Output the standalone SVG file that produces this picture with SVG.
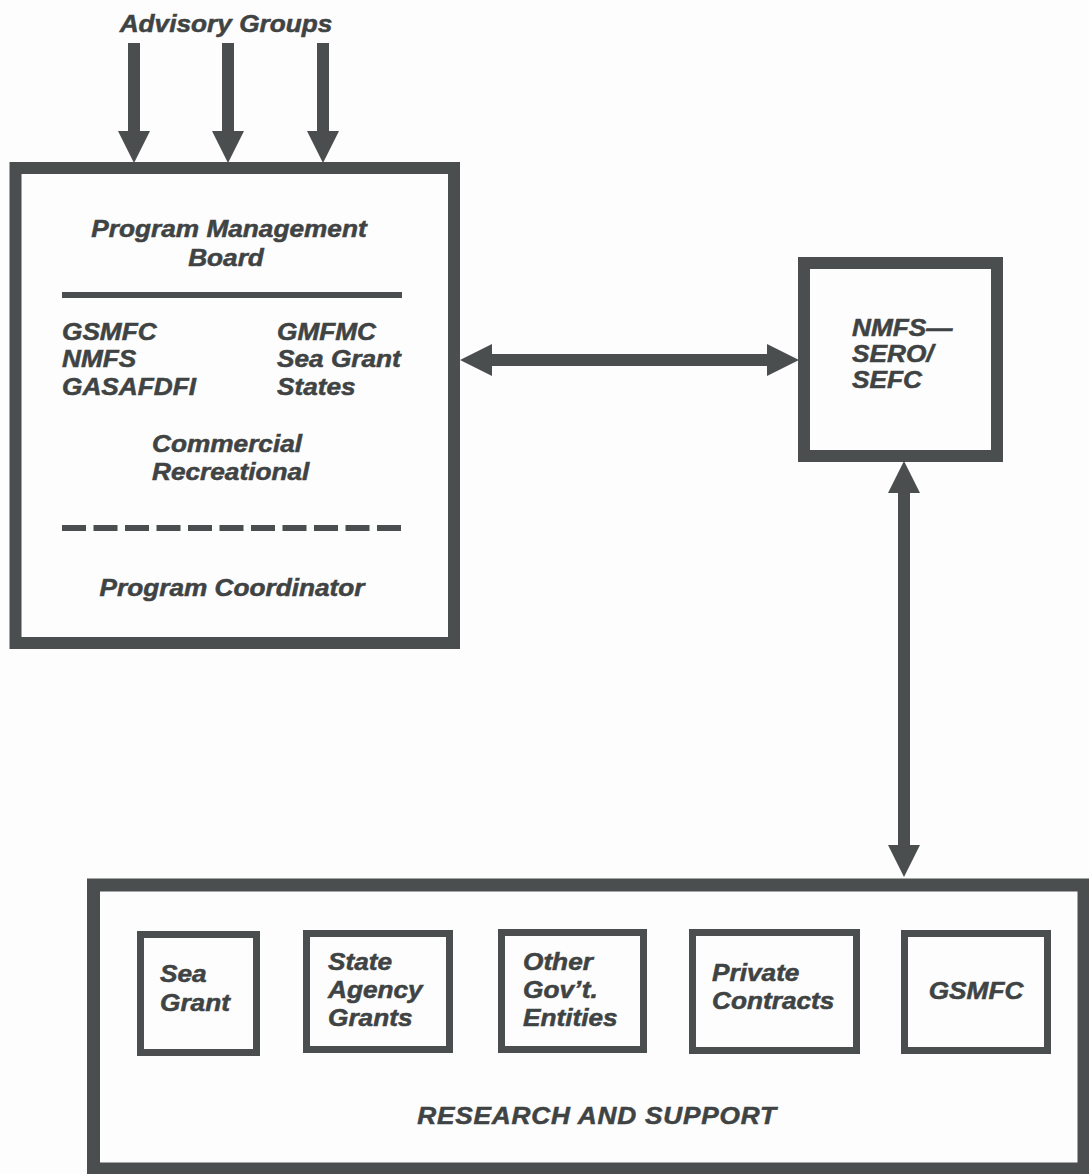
<svg xmlns="http://www.w3.org/2000/svg" width="1089" height="1174" viewBox="0 0 1089 1174">
  <style>
    .box { fill: none; stroke: #4b4e4e; }
    .big { stroke-width: 12; }
    .small { stroke-width: 7; }
    .t { font-family: "Liberation Sans", Arial, Helvetica, sans-serif; font-weight: bold; font-style: italic; font-size: 23px; fill: #404343; stroke: #404343; stroke-width: 0.5px; }
    .mid { text-anchor: middle; }
    .conn { stroke: #4b4e4e; stroke-width: 12; fill: none; }
  </style>
  <defs>
    <marker id="head" markerUnits="userSpaceOnUse" markerWidth="32" markerHeight="32" viewBox="0 0 32 32" refX="12" refY="16" orient="auto-start-reverse">
      <path d="M0,0 L32,16 L0,32 Z" fill="#4b4e4e"/>
    </marker>
  </defs>
  <rect width="1089" height="1174" fill="#fdfdfd"/>

  <text id="advisory-label" class="t mid" transform="translate(226 32) scale(1.14 1)">Advisory Groups</text>

  <g id="program-management-board">
    <rect class="box big" x="15.5" y="168" width="438.5" height="475"/>
    <text class="t mid" transform="translate(229 237) scale(1.14 1)">Program Management</text>
    <text class="t mid" transform="translate(226 266) scale(1.14 1)">Board</text>
    <line x1="62" y1="295" x2="402" y2="295" stroke="#4b4e4e" stroke-width="6"/>
    <text class="t" transform="translate(62 340) scale(1.14 1)">GSMFC</text>
    <text class="t" transform="translate(62 367) scale(1.14 1)">NMFS</text>
    <text class="t" transform="translate(62 395) scale(1.14 1)">GASAFDFI</text>
    <text class="t" transform="translate(277 340) scale(1.14 1)">GMFMC</text>
    <text class="t" transform="translate(277 367) scale(1.14 1)">Sea Grant</text>
    <text class="t" transform="translate(277 395) scale(1.14 1)">States</text>
    <text class="t" transform="translate(152 452) scale(1.14 1)">Commercial</text>
    <text class="t" transform="translate(152 480) scale(1.14 1)">Recreational</text>
    <line x1="62" y1="528" x2="402" y2="528" stroke="#4b4e4e" stroke-width="6" stroke-dasharray="24 7.5"/>
    <text class="t mid" transform="translate(232 596) scale(1.14 1)">Program Coordinator</text>
  </g>

  <g id="nmfs-sero-sefc">
    <rect class="box big" x="804" y="263" width="193" height="193"/>
    <text class="t" transform="translate(852 336) scale(1.14 1)">NMFS—</text>
    <text class="t" transform="translate(852 362) scale(1.14 1)">SERO/</text>
    <text class="t" transform="translate(852 388) scale(1.14 1)">SEFC</text>
  </g>

  <g id="research-and-support">
    <rect class="box" stroke-width="13" x="93.5" y="885" width="990.5" height="284"/>
    <text class="t mid" transform="translate(597 1124) scale(1.14 1)" style="letter-spacing:0.7px">RESEARCH AND SUPPORT</text>
  </g>

  <g id="sea-grant">
    <rect class="box small" x="140.5" y="934.5" width="116" height="118"/>
    <text class="t" transform="translate(160 982) scale(1.14 1)">Sea</text>
    <text class="t" transform="translate(160 1011) scale(1.14 1)">Grant</text>
  </g>

  <g id="state-agency-grants">
    <rect class="box small" x="306.5" y="933.5" width="143" height="116"/>
    <text class="t" transform="translate(328 970) scale(1.14 1)">State</text>
    <text class="t" transform="translate(328 998) scale(1.14 1)">Agency</text>
    <text class="t" transform="translate(328 1026) scale(1.14 1)">Grants</text>
  </g>

  <g id="other-govt-entities">
    <rect class="box small" x="501.5" y="932.5" width="142" height="117"/>
    <text class="t" transform="translate(523 970) scale(1.14 1)">Other</text>
    <text class="t" transform="translate(523 998) scale(1.14 1)">Gov’t.</text>
    <text class="t" transform="translate(523 1026) scale(1.14 1)">Entities</text>
  </g>

  <g id="private-contracts">
    <rect class="box small" x="692.5" y="932.5" width="164" height="118"/>
    <text class="t" transform="translate(712 981) scale(1.14 1)">Private</text>
    <text class="t" transform="translate(712 1009) scale(1.14 1)">Contracts</text>
  </g>

  <g id="gsmfc">
    <rect class="box small" x="904.5" y="933.5" width="143" height="117"/>
    <text class="t mid" transform="translate(976 999) scale(1.14 1)">GSMFC</text>
  </g>

  <g id="connectors">
    <line class="conn" x1="134" y1="43" x2="134" y2="143" marker-end="url(#head)"/>
    <line class="conn" x1="228" y1="43" x2="228" y2="143" marker-end="url(#head)"/>
    <line class="conn" x1="323" y1="43" x2="323" y2="143" marker-end="url(#head)"/>
    <line class="conn" x1="480" y1="360" x2="779" y2="360" marker-start="url(#head)" marker-end="url(#head)"/>
    <line class="conn" x1="904" y1="481" x2="904" y2="857" marker-start="url(#head)" marker-end="url(#head)"/>
  </g>
</svg>
